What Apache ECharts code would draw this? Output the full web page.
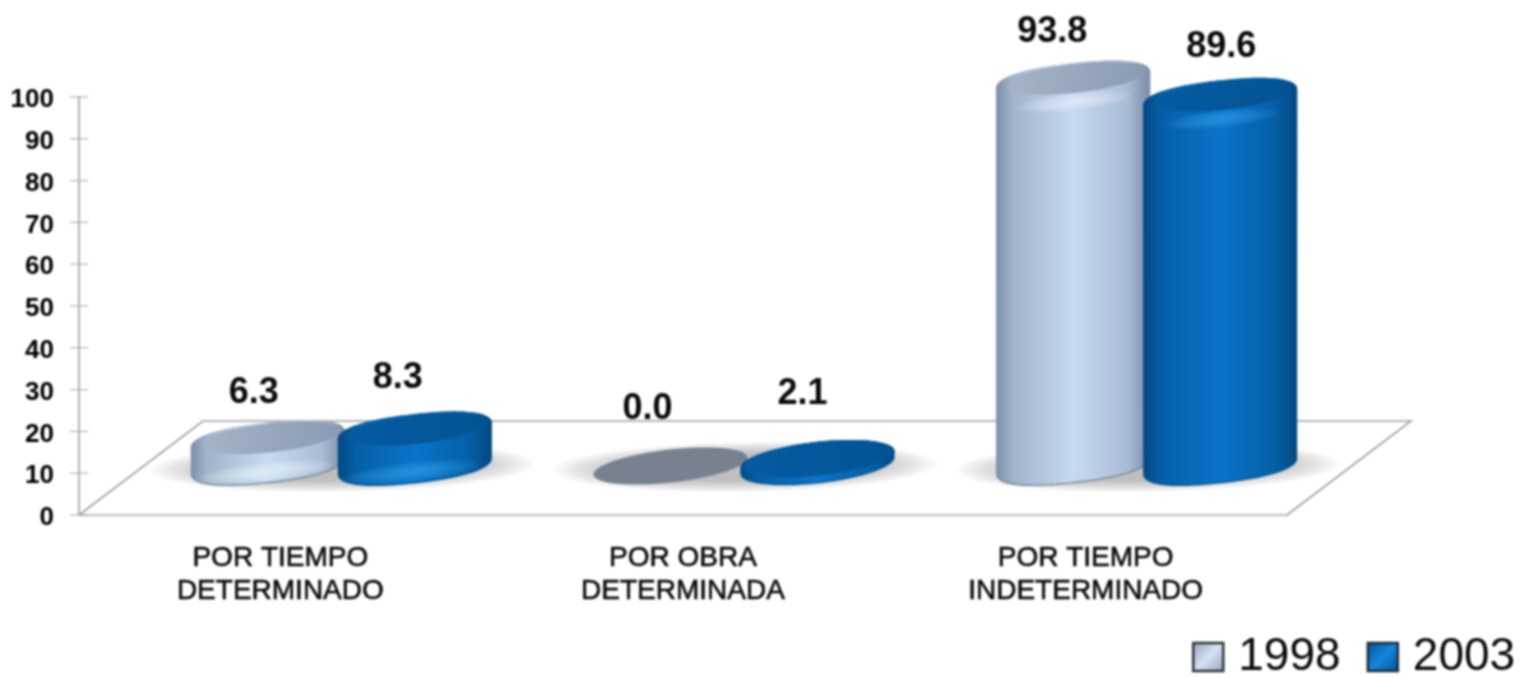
<!DOCTYPE html>
<html>
<head>
<meta charset="utf-8">
<script src="https://cdn.jsdelivr.net/npm/echarts@6/dist/echarts.min.js"></script>
<style>
html,body{margin:0;padding:0;background:#fff;overflow:hidden}
#c{width:1521px;height:678px;filter:blur(0.9px)}
</style>
</head>
<body>
<div id="c"></div>
<script>
const categories = ['POR TIEMPO\nDETERMINADO', 'POR OBRA\nDETERMINADA', 'POR TIEMPO\nINDETERMINADO'];
const values1998 = [6.3, 0.0, 93.8];
const values2003 = [8.3, 2.1, 89.6];
const yTicks = [0,10,20,30,40,50,60,70,80,90,100];

const font = '"Liberation Sans", Arial, sans-serif';
const TILT = 6.5 * Math.PI / 180, RX = 77.5, RY = 17.5;
const SKEW_X = 124, SKEW_Y = 94, LIFT = 50;

function ell(cx, cy, rx, ry, from, to, tilt, pow) {
  const a = tilt == null ? TILT : tilt, e = pow || 1;
  const pts = [], n = 64;
  for (let i = 0; i <= n; i++) {
    const t = from + (to - from) * i / n;
    const c = Math.cos(t), s = Math.sin(t);
    const u = rx * Math.sign(c) * Math.pow(Math.abs(c), e), w = ry * Math.sign(s) * Math.pow(Math.abs(s), e);
    pts.push([cx + u * Math.cos(a) + w * Math.sin(a), cy - u * Math.sin(a) + w * Math.cos(a)]);
  }
  return pts;
}
function poly(points, fill, opacity) {
  return {type:'polygon', shape:{points}, style:{fill, opacity: opacity == null ? 1 : opacity}};
}
function soft(cx, cy, rx0, ry0, rx1, ry1, color, layers, alpha, tilt) {
  const out = [];
  for (let i = 0; i < layers; i++) {
    const k = i / (layers - 1);
    out.push(poly(ell(cx, cy, rx0 + (rx1 - rx0) * k, ry0 + (ry1 - ry0) * k, 0, Math.PI * 2, tilt), color, alpha));
  }
  return out;
}
function hGrad(stops) {
  return new echarts.graphic.LinearGradient(0, 0, 1, 0, stops.map(s => ({offset: s[0], color: s[1]})));
}

const looks = {
  a: {
    dx: -73.5,
    body: hGrad([[0,'#7d8ea8'],[0.1,'#9fb2ca'],[0.5,'#c6daf1'],[0.85,'#a9bcd5'],[1,'#7b8ca6']]),
    rim: '#76859b',
    face: new echarts.graphic.LinearGradient(0, 0, 1, 0.3, [{offset:0,color:'#a6b3c7'},{offset:1,color:'#8a9bb5'}]),
    flat: '#78828f', glow: '#f4f8fe',
    label: [[-14,-47],[-23,-56],[-21,-49]]
  },
  b: {
    dx: 73.5,
    body: hGrad([[0,'#04487f'],[0.12,'#055fa8'],[0.5,'#0a74c8'],[0.85,'#0560a8'],[1,'#03487f']]),
    rim: '#045496',
    face: new echarts.graphic.LinearGradient(0, 0, 1, 0.3, [{offset:0,color:'#055ba2'},{offset:1,color:'#045493'}]),
    flat: '#05589f', glow: '#39a6f2',
    label: [[-17,-54],[-15,-65],[1,-51]]
  }
};

function drawCylinder(look) {
  return function (params, api) {
    const i = api.value(0), v = api.value(1);
    const p = api.coord([i, 0]);
    const unit = api.size([0, 1], [i, 50])[1] * 0.98;
    const h = Math.max(0, v * unit - 5 * Math.exp(-v / 4));
    const x = p[0] + 61 + look.dx, baseY = p[1] - LIFT, top = baseY - h;
    const t = Math.min(1, h / 20);
    const kids = [];
    if (h > 0) {
      const pw = t > 0.5 ? 0.85 : 1;
      kids.push(poly(ell(x, baseY + 0.8, RX, RY, 0, Math.PI, null, pw).concat(ell(x, top, RX, RY, Math.PI, Math.PI * 2, null, pw)), look.rim));
      kids.push(poly(ell(x, baseY - 0.6, RX - 0.3, RY, 0, Math.PI, null, pw).concat(ell(x, top, RX, RY, Math.PI, Math.PI * 2, null, pw)), look.body));
      if (h < 60) {
        kids.push(...soft(x - 4, baseY + 7, 60 * t + 10, 9 * t + 1, 12, 2, look.glow, 12, 0.07));
      } else {
        kids.push(...soft(x + 1, top + 21, 58, 9, 12, 2, look.glow, 12, 0.075));
      }
      const frx = RX - 8 * t, fry = RY - 3 * t;
      kids.push(poly(ell(x + 3 * t, top - 2.5 * t, frx, fry, 0, Math.PI * 2), look.face));
    } else {
      kids.push(poly(ell(x, baseY + 1, RX, RY - 1, 0, Math.PI * 2), look.flat));
    }
    const s = look.label[i];
    kids.push({
      type: 'text', x: x + s[0], y: top + s[1],
      style: {text: v.toFixed(1), font: 'bold 36px ' + font, fill: '#0a0a0a', textAlign: 'center', textVerticalAlign: 'middle'}
    });
    return {type: 'group', children: kids};
  };
}

function drawFloor(params, api) {
  const g = params.coordSys;
  if (params.dataIndex === 0) {
    const b = g.y + g.height, kids = [];
    kids.push({type:'polyline', shape:{points:[[g.x, b],[g.x + SKEW_X, b - SKEW_Y],[g.x + g.width + SKEW_X, b - SKEW_Y],[g.x + g.width, b]]},
      style:{stroke:'#a0a0a0', lineWidth:1.6, fill:null}});
    yTicks.forEach(t => {
      const c = api.coord([0, t]);
      kids.push({type:'line', shape:{x1:g.x - 9, y1:c[1], x2:g.x + 9, y2:c[1]}, style:{stroke:'#b0b0b0', lineWidth:1.2}});
    });
    categories.forEach((_, k) => {
      const c = api.coord([k, 0]);
      kids.push(...soft(c[0] + 62, c[1] - LIFT + 2, 192, 25, 120, 13, '#808080', 16, 0.045, 1 * Math.PI / 180));
    });
    return {type:'group', children:kids};
  }
  return null;
}

const chart = echarts.init(document.getElementById('c'), null, {renderer:'canvas'});
chart.setOption({
  animation: false,
  backgroundColor: '#fff',
  grid: {left: 79, right: 1521 - 1287, top: 97, bottom: 163, containLabel: false},
  legend: {
    left: 1192, top: 634, padding: 0, itemWidth: 30, itemHeight: 28, itemGap: 26,
    selectedMode: false,
    textStyle: {fontFamily: font, fontSize: 46, color: '#0a0a0a', padding: [5,0,0,10]},
    data: [
      {name:'1998', icon:'rect', itemStyle:{borderColor:'#333', borderWidth:2.5,
        color:new echarts.graphic.LinearGradient(0,0,1,1,[{offset:0,color:'#8fa2bb'},{offset:0.5,color:'#d4e2f2'},{offset:1,color:'#8fa2bb'}])}},
      {name:'2003', icon:'rect', itemStyle:{borderColor:'#1e2c3a', borderWidth:2.5,
        color:new echarts.graphic.LinearGradient(0,0,1,1,[{offset:0,color:'#05508f'},{offset:0.5,color:'#1486dc'},{offset:1,color:'#05508f'}])}}
    ]
  },
  xAxis: {
    type: 'category', data: categories,
    axisLine: {lineStyle: {color:'#c8c8c8', width:2.4}},
    axisTick: {show:false},
    axisLabel: {fontFamily:font, fontSize:28, color:'#0a0a0a', textBorderColor:'#0a0a0a', textBorderWidth:0.6, lineHeight:33, margin:27, interval:0}
  },
  yAxis: {
    type: 'value', min: 0, max: 100, interval: 10,
    axisLine: {show:true, lineStyle:{color:'#b0b0b0', width:2}},
    axisTick: {show:false},
    splitLine: {show:false},
    axisLabel: {fontFamily:font, fontSize:26, fontWeight:'bold', color:'#000', margin:25, verticalAlign:'top', lineHeight:6}
  },
  series: [
    {type:'custom', name:'floor', renderItem:drawFloor, data:[[0,0]], encode:{x:0,y:1}, silent:true},
    {type:'custom', name:'1998', renderItem:drawCylinder(looks.a), data:values1998.map((v,i)=>[i,v]), encode:{x:0,y:1}, itemStyle:{color:'#c4d6ec'}},
    {type:'custom', name:'2003', renderItem:drawCylinder(looks.b), data:values2003.map((v,i)=>[i,v]), encode:{x:0,y:1}, itemStyle:{color:'#0a6fbe'}}
  ]
});
</script>
</body>
</html>
